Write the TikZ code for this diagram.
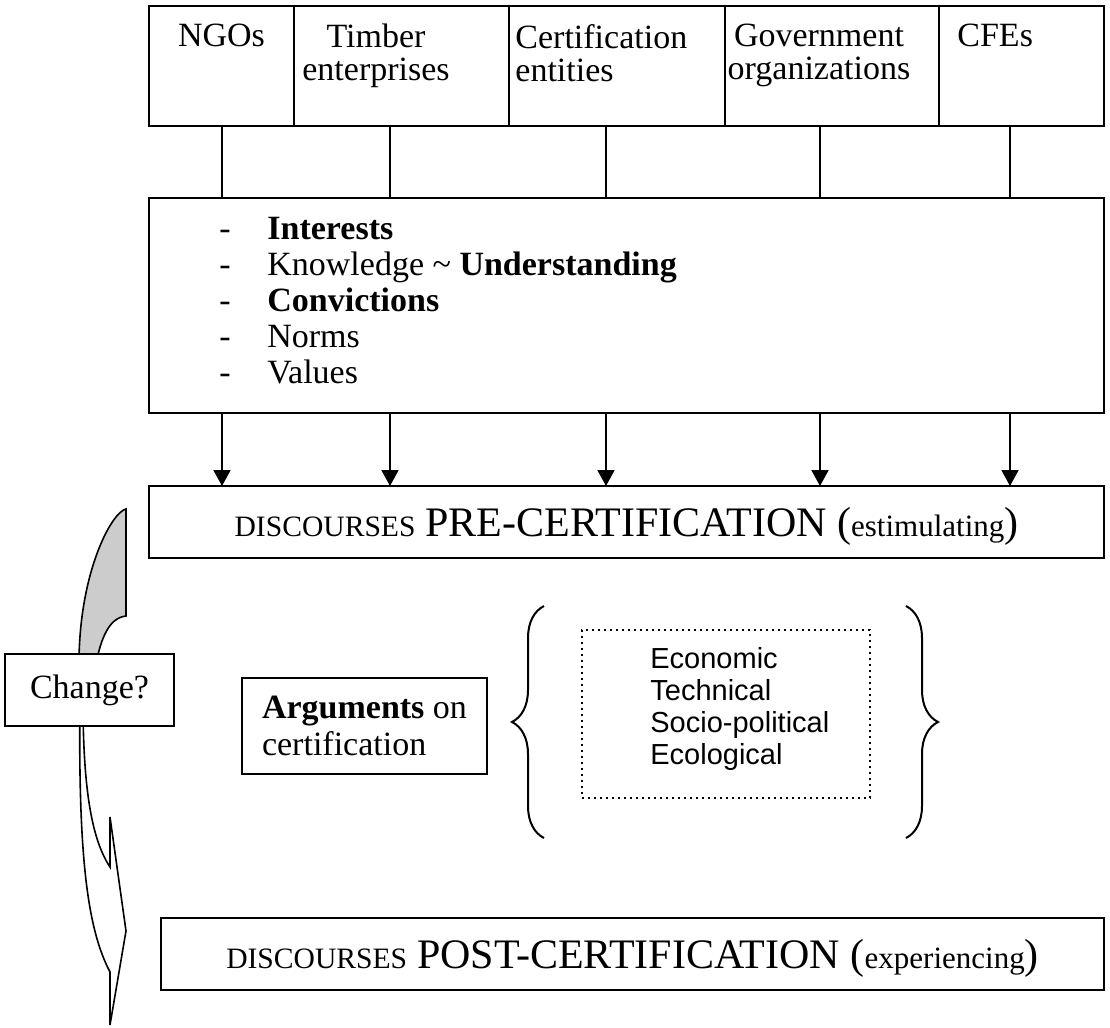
\documentclass[tikz,border=0pt]{standalone}
\usepackage{fontspec}
\setmainfont{Liberation Serif}
\newfontfamily\argfont{Liberation Sans}
\usetikzlibrary{positioning, arrows.meta, decorations.pathreplacing}

\newcommand{\fsz}[2]{\fontsize{#1}{#2}\selectfont}
\newcommand{\dashitem}[1]{\makebox[24pt][l]{-}#1}

\begin{document}
\begin{tikzpicture}[
  x=0.5pt, y=-0.5pt,
  box/.style={draw, line width=1pt, inner sep=0pt, outer sep=0pt, anchor=north west},
  actor/.style={box, minimum height=60pt},
  lbl/.style={inner sep=0pt, font=\fsz{17}{16.5}},
  disc/.style={box, minimum height=36pt, text height=15pt, text depth=1pt},
  link/.style={line width=1pt},
  arrow/.style={-{Triangle[length=8pt, width=8.5pt]}, line width=1pt},
  curly/.style={decorate, decoration={brace, amplitude=16pt}, line width=1pt}
]
  \useasboundingbox (0,0) rectangle (1110,1028);

  % actors on top
  \node[actor, minimum width=72.5pt] (ngo) at (149,6) {};
  \node[actor, minimum width=107.5pt, right=0pt of ngo] (timber) {};
  \node[actor, minimum width=108pt, right=0pt of timber] (cert) {};
  \node[actor, minimum width=107pt, right=0pt of cert] (gov) {};
  \node[actor, minimum width=82.5pt, right=0pt of gov] (cfe) {};

  \node[lbl, anchor=north] (ngo-t) at (221.5,24) {NGOs};
  \node[lbl, anchor=north, align=center] (timber-t) at (376,24) {Timber\\enterprises};
  \node[lbl, anchor=north west, align=left] (cert-t) at (515,24) {Certification\\entities};
  \node[lbl, anchor=north, align=center] (gov-t) at (819,24) {Government\\organizations};
  \node[lbl, anchor=north west] (cfe-t) at (957,24) {CFEs};

  % what the actors bring
  \node[box, minimum width=477.5pt, minimum height=107.5pt] (factors) at (149,198) {};
  \node[lbl, anchor=north west, align=left, font=\fsz{17}{18}] (factor-list) at (219,216.5) {%
    \dashitem{\textbf{Interests}}\\
    \dashitem{Knowledge \textasciitilde{} \textbf{Understanding}}\\
    \dashitem{\textbf{Convictions}}\\
    \dashitem{Norms}\\
    \dashitem{Values}};

  \node[disc, minimum width=477.5pt, below=36.5pt of factors] (pre) {%
    {\fsz{14.8}{15}DISCOURSES}\hspace{5pt}{\fsz{21}{22}PRE-CERTIFICATION (}{\fsz{15.5}{16}estimulating}{\fsz{21}{22})}\hspace{10pt}};

  \foreach \x in {222,390,606,820,1010} {
    \draw[link] (\x,0 |- ngo.south) -- (\x,0 |- factors.north);
    \draw[arrow] (\x,0 |- factors.south) -- (\x,0 |- pre.north);
  }

  % change arrow on the left
  \filldraw[fill=black!20, line width=0.8pt]
    (126,509) .. controls (112,512) and (80,570) .. (79,660)
    -- (92,690) .. controls (98,640) and (108,618) .. (126,616) -- cycle;
  \filldraw[fill=white, line width=0.8pt]
    (80,700) .. controls (78,860) and (88,930) .. (110,972)
    -- (110,1025) -- (126,931) -- (110,817) -- (110,867)
    .. controls (92,840) and (83,790) .. (83,700) -- cycle;
  \node[box, fill=white, minimum width=84.5pt, minimum height=36pt, font=\fsz{17}{18}] (change) at (5,654) {Change?};

  % arguments
  \node[box, minimum width=122.5pt, minimum height=48pt, align=left, font=\fsz{17}{18.5}] (args) at (242,678) {\textbf{Arguments} on\\certification};
  \node[box, dotted, line width=0.8pt, minimum width=144pt, minimum height=84pt] (dims) at (582,630) {};
  \node[inner sep=0pt, anchor=north west, align=left, font=\argfont\fsz{14.5}{16}] (dim-list) at (650,647) {Economic\\Technical\\Socio-political\\Ecological};
  \draw[curly] (544,838) -- (544,606);
  \draw[curly] (906,606) -- (906,838);

  \node[disc, minimum width=471.5pt] (post) at (161,918) {%
    {\fsz{14.8}{15}DISCOURSES}\hspace{5pt}{\fsz{21}{22}POST-CERTIFICATION (}{\fsz{15.5}{16}experiencing}{\fsz{21}{22})}\hspace{10pt}};
\end{tikzpicture}
\end{document}
